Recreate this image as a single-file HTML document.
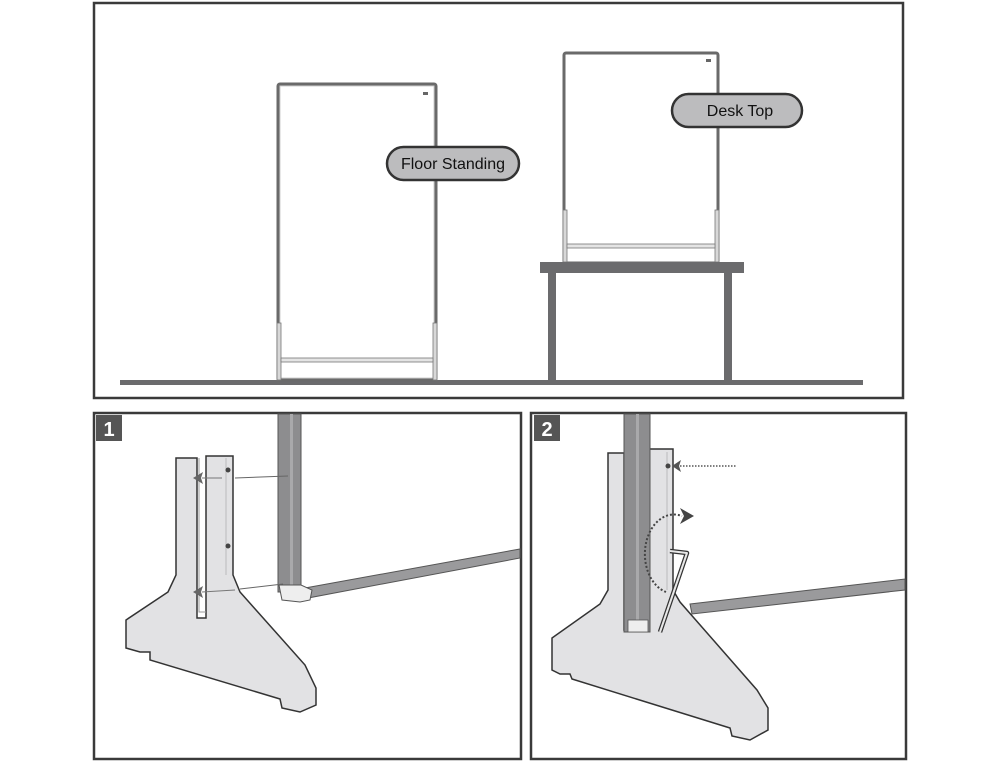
<!DOCTYPE html>
<html><head><meta charset="utf-8"><style>
html,body{margin:0;padding:0;background:#fff;}
svg{display:block;}
text{font-family:"Liberation Sans",sans-serif;}
</style></head><body>
<svg width="1000" height="762" viewBox="0 0 1000 762" xmlns="http://www.w3.org/2000/svg">
<!-- top panel -->
<rect x="94" y="3" width="809" height="395" fill="#fff" stroke="#3a3a3a" stroke-width="2.5"/>
<rect x="120" y="380" width="743" height="5" fill="#6b6b6d"/>
<!-- floor standing board -->
<rect x="278" y="84" width="158" height="296" fill="#fff" stroke="#6a6a6a" stroke-width="3" rx="2"/>
<rect x="280" y="86" width="154" height="292" fill="none" stroke="#cfcfcf" stroke-width="1"/>
<rect x="277" y="323" width="4" height="57" fill="#d8d8d8" stroke="#777" stroke-width="0.8"/>
<rect x="433" y="323" width="4" height="57" fill="#d8d8d8" stroke="#777" stroke-width="0.8"/>
<rect x="281" y="358" width="152" height="4" fill="#e4e4e4" stroke="#777" stroke-width="0.8"/>
<rect x="423" y="92" width="5" height="3" fill="#666"/>
<!-- desk top board -->
<rect x="564" y="53" width="154" height="210" fill="#fff" stroke="#6a6a6a" stroke-width="3" rx="2"/>
<rect x="563" y="210" width="4" height="52" fill="#d8d8d8" stroke="#777" stroke-width="0.8"/>
<rect x="715" y="210" width="4" height="52" fill="#d8d8d8" stroke="#777" stroke-width="0.8"/>
<rect x="567" y="244" width="148" height="4" fill="#e4e4e4" stroke="#777" stroke-width="0.8"/>
<rect x="706" y="59" width="5" height="3" fill="#666"/>
<!-- table -->
<rect x="540" y="262" width="204" height="11" fill="#6b6b6d"/>
<rect x="548" y="273" width="8" height="107" fill="#6b6b6d"/>
<rect x="724" y="273" width="8" height="107" fill="#6b6b6d"/>
<!-- labels -->
<rect x="387" y="147" width="132" height="33" rx="16.5" fill="#bcbcbe" stroke="#333" stroke-width="2.5"/>
<text x="453" y="169" font-size="16" text-anchor="middle" fill="#111">Floor Standing</text>
<rect x="672" y="94" width="130" height="33" rx="16.5" fill="#bcbcbe" stroke="#333" stroke-width="2.5"/>
<text x="740" y="116" font-size="16" text-anchor="middle" fill="#111">Desk Top</text>

<!-- panel 1 -->
<rect x="94" y="413" width="427" height="346" fill="#fff" stroke="#3a3a3a" stroke-width="2.5"/>
<rect x="96" y="415" width="26" height="26" fill="#555"/>
<text x="109" y="436" font-size="20" font-weight="bold" text-anchor="middle" fill="#fff">1</text>
<!-- post & bar -->
<polygon points="305,588 520,549 520,558 308,598" fill="#9a9a9c" stroke="#555" stroke-width="1"/>
<rect x="278" y="414" width="23" height="178" fill="#8d8d8f" stroke="#555" stroke-width="1"/>
<rect x="290" y="414" width="3" height="178" fill="#a9a9ab"/>
<path d="M279,585 L301,585 L312,590 L310,600 L300,602 L282,600 Z" fill="#eee" stroke="#555" stroke-width="1"/>
<!-- stand -->
<polygon points="176,458 197,458 197,618 206,618 206,456 233,456 233,575 240,592 305,665 316,688 316,705 300,712 282,708 280,699 150,660 150,652 140,652 126,648 126,620 168,592 176,575" fill="#e2e2e4" stroke="#333" stroke-width="1.5"/>
<polyline points="199,458 199,612 206,612" fill="none" stroke="#999" stroke-width="1"/>
<line x1="226" y1="458" x2="226" y2="575" stroke="#bbb"/>
<circle cx="228" cy="470" r="2.5" fill="#444"/>
<circle cx="228" cy="546" r="2.5" fill="#444"/>
<!-- arrows -->
<line x1="235" y1="478" x2="288" y2="476" stroke="#666" stroke-width="1"/>
<line x1="202" y1="478" x2="222" y2="478" stroke="#777" stroke-width="1"/>
<polygon points="193,478 203,472 201,478 203,484" fill="#666"/>
<line x1="240" y1="589" x2="283" y2="584" stroke="#666" stroke-width="1"/>
<line x1="202" y1="592" x2="235" y2="590" stroke="#777" stroke-width="1"/>
<polygon points="193,592 203,586 201,592 203,598" fill="#666"/>

<!-- panel 2 -->
<rect x="531" y="413" width="375" height="346" fill="#fff" stroke="#3a3a3a" stroke-width="2.5"/>
<rect x="534" y="415" width="26" height="26" fill="#555"/>
<text x="547" y="436" font-size="20" font-weight="bold" text-anchor="middle" fill="#fff">2</text>
<polygon points="690,604 905,579 905,590 692,614" fill="#9a9a9c" stroke="#555" stroke-width="1"/>
<polygon points="608,453 624,453 624,630 644,630 644,449 673,449 673,590 680,602 757,690 768,708 768,730 750,740 732,736 730,728 572,679 570,674 560,674 552,670 552,638 600,604 608,590" fill="#e2e2e4" stroke="#333" stroke-width="1.5"/>
<rect x="624" y="414" width="26" height="218" fill="#8d8d8f" stroke="#555" stroke-width="1"/>
<rect x="636" y="414" width="3" height="218" fill="#a9a9ab"/>
<rect x="628" y="620" width="20" height="12" fill="#eee" stroke="#555" stroke-width="0.8"/>
<line x1="667" y1="452" x2="667" y2="590" stroke="#bbb"/>
<circle cx="668" cy="466" r="2.5" fill="#444"/>
<line x1="680" y1="466" x2="737" y2="466" stroke="#555" stroke-width="1.5" stroke-dasharray="1.5,1.5"/>
<polygon points="672,466 681,460 679,466 681,472" fill="#555"/>
<path d="M666,592 A28,38 0 0 1 682,516" fill="none" stroke="#444" stroke-width="2" stroke-dasharray="2,2"/>
<polygon points="694,516 680,508 684,516 680,524" fill="#444"/>
<path d="M670,551 L687,553 L660,632" fill="none" stroke="#333" stroke-width="4.5" stroke-linejoin="round"/>
<path d="M670,551 L687,553 L660,632" fill="none" stroke="#e8e8e8" stroke-width="2" stroke-linejoin="round"/>
</svg>
</body></html>
